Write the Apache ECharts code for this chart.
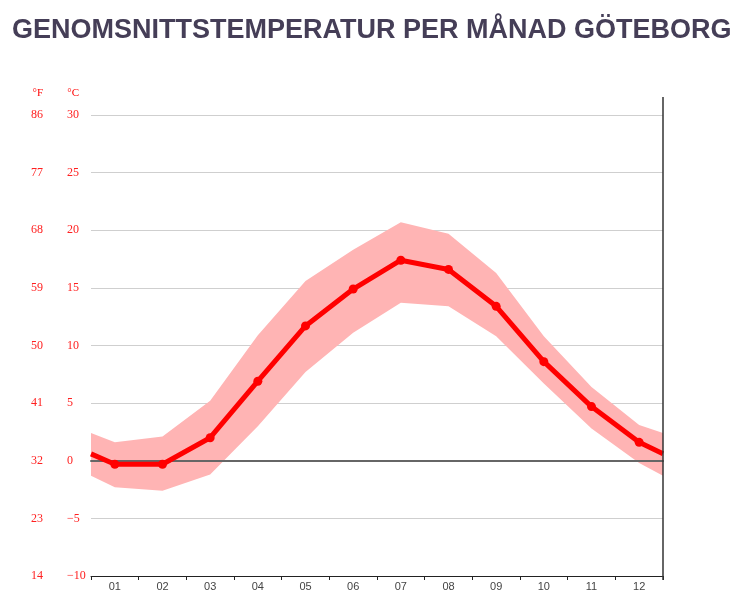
<!DOCTYPE html>
<html>
<head>
<meta charset="utf-8">
<script src="https://cdn.jsdelivr.net/npm/echarts@6/dist/echarts.min.js"></script>
<style>
    html, body { margin: 0; padding: 0; background: #fff; }
    #container { width: 743px; height: 608px; }
</style>
</head>
<body>
<div id="container"></div>
<script>
// medeltemperatur per månad (°C)
var months = ['01', '02', '03', '04', '05', '06', '07', '08', '09', '10', '11', '12'];
var meanTemp = [-0.3, -0.3, 2.0, 6.9, 11.7, 14.9, 17.4, 16.6, 13.4, 8.6, 4.7, 1.6];
var highTemp = [1.6, 2.1, 5.2, 10.9, 15.6, 18.3, 20.7, 19.7, 16.3, 10.8, 6.4, 3.1];
var lowTemp = [-2.3, -2.6, -1.2, 3.0, 7.7, 11.1, 13.7, 13.4, 10.8, 6.7, 2.8, -0.2];
// värden vid diagrammets kanter (dec -> jan)
var edgeMean = 0.6;
var edgeHigh = 2.4;
var edgeLow = -1.3;

function withEdges(values, edge) {
    var out = [{value: [0, edge], symbol: 'none'}];
    values.forEach(function (v, i) {
        out.push({value: [i + 0.5, v]});
    });
    out.push({value: [months.length, edge], symbol: 'none'});
    return out;
}

// band: [x, min, max]
var bandData = [[0, edgeLow, edgeHigh]];
lowTemp.forEach(function (v, i) { bandData.push([i + 0.5, v, highTemp[i]]); });
bandData.push([months.length, edgeLow, edgeHigh]);

var meanData = withEdges(meanTemp, edgeMean);

var labelFont = 'Liberation Serif';

var dom = document.getElementById('container');
var myChart = echarts.init(dom);
var option = {
    animation: false,
    title: {
        text: 'GENOMSNITTSTEMPERATUR PER MÅNAD GÖTEBORG',
        left: 7,
        top: 12,
        textStyle: {
            fontFamily: 'Liberation Sans',
            fontSize: 27,
            fontWeight: 'bold',
            color: '#453e57'
        }
    },
    grid: {left: 91, right: 80, top: 115, bottom: 32},
    xAxis: [
        {
            type: 'category',
            data: months,
            boundaryGap: true,
            axisLine: {onZero: false, lineStyle: {color: '#222', width: 1}},
            axisTick: {show: true, length: 4, lineStyle: {color: '#222'}},
            axisLabel: {color: '#444', fontFamily: 'Liberation Sans', fontSize: 11, margin: 5},
            splitLine: {show: false}
        },
        {
            type: 'value',
            min: 0,
            max: months.length,
            show: true,
            z: 3,
            axisLine: {show: true, onZero: true, onZeroAxisIndex: 0, lineStyle: {color: '#666', width: 2}},
            axisTick: {show: false},
            axisLabel: {show: false},
            splitLine: {show: false}
        }
    ],
    yAxis: [
        {
            type: 'value',
            min: -10,
            max: 30,
            interval: 5,
            name: '°C',
            nameLocation: 'end',
            nameGap: 16,
            nameTextStyle: {color: '#ff0000', fontFamily: labelFont, fontSize: 11, align: 'right', padding: [0, 12, 0, 0]},
            axisLine: {show: false},
            axisTick: {show: false},
            axisLabel: {
                color: '#ff2020',
                fontFamily: labelFont,
                fontSize: 12,
                align: 'left',
                margin: 24,
                formatter: function (v) { return v < 0 ? '\u2212' + Math.abs(v) : String(v); }
            },
            splitLine: {lineStyle: {color: '#cfcfcf', width: 1}}
        },
        {
            type: 'value',
            min: -10,
            max: 30,
            interval: 5,
            position: 'left',
            offset: 36,
            name: '°F',
            nameLocation: 'end',
            nameGap: 16,
            nameTextStyle: {color: '#ff0000', fontFamily: labelFont, fontSize: 11, align: 'right', padding: [0, 12, 0, 0]},
            axisLine: {show: false},
            axisTick: {show: false},
            axisLabel: {
                color: '#ff2020',
                fontFamily: labelFont,
                fontSize: 12,
                align: 'left',
                margin: 24,
                formatter: function (v) { return String(Math.round(v * 1.8 + 32)); }
            },
            splitLine: {show: false}
        }
    ],
    series: [
        {
            name: 'min-max',
            type: 'custom',
            xAxisIndex: 1,
            yAxisIndex: 0,
            data: bandData,
            encode: {x: 0, y: [1, 2]},
            silent: true,
            z: 1,
            renderItem: function (params, api) {
                if (params.dataIndex !== 0) return;
                var top = [], bottom = [];
                bandData.forEach(function (d) {
                    top.push(api.coord([d[0], d[2]]));
                    bottom.unshift(api.coord([d[0], d[1]]));
                });
                return {
                    type: 'polygon',
                    shape: {points: top.concat(bottom)},
                    style: {fill: '#ffb4b4'}
                };
            }
        },
        {
            name: 'medel',
            type: 'line',
            xAxisIndex: 1,
            yAxisIndex: 0,
            data: meanData,
            symbol: 'circle',
            symbolSize: 9,
            itemStyle: {color: '#ff0000'},
            lineStyle: {color: '#ff0000', width: 5},
            z: 5
        }
    ]
};
myChart.setOption(option);

// högra ramlinjen som går lite ovanför rutnätet
var xr = myChart.convertToPixel({xAxisIndex: 1}, months.length);
var yTop = myChart.convertToPixel({yAxisIndex: 0}, 30) - 18;
var yBot = myChart.convertToPixel({yAxisIndex: 0}, -10);
myChart.setOption({
    graphic: [{
        type: 'line',
        shape: {x1: xr, y1: yTop, x2: xr, y2: yBot + 4},
        style: {stroke: '#333', lineWidth: 1.5},
        z: 10
    }]
});
</script>
</body>
</html>
